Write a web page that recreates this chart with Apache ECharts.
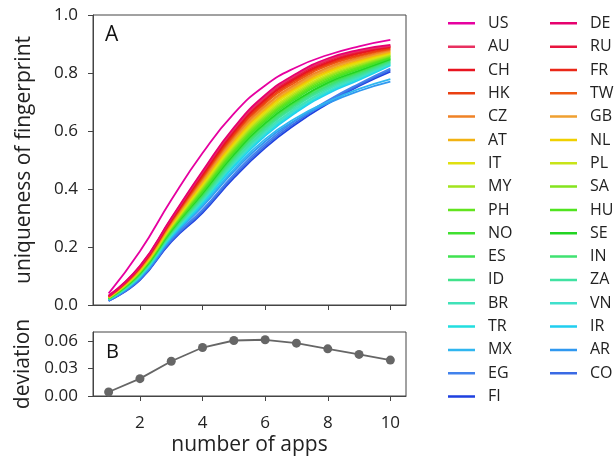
<!DOCTYPE html>
<html>
<head>
<meta charset="utf-8">
<script src="https://cdn.jsdelivr.net/npm/echarts@6/dist/echarts.min.js"></script>
<style>
html,body{margin:0;padding:0;background:#fff;}
#chart{width:616px;height:460px;}
</style>
</head>
<body>
<div id="chart"></div>
<script>
// ---- data ----
const apps = [1, 2, 3, 4, 5, 6, 7, 8, 9, 10];
const xTicks = [2, 4, 6, 8, 10];
const yTicksA = [0, 0.2, 0.4, 0.6, 0.8, 1.0];
const yTicksB = [0, 0.03, 0.06];

const US = [0.040, 0.185, 0.362, 0.524, 0.660, 0.757, 0.820, 0.862, 0.892, 0.914];
const DE = [0.032, 0.135, 0.300, 0.462, 0.612, 0.724, 0.798, 0.850, 0.880, 0.897];
const AU = [0.031, 0.133, 0.297, 0.458, 0.607, 0.718, 0.793, 0.845, 0.876, 0.894];
const RU = [0.031, 0.132, 0.296, 0.455, 0.603, 0.715, 0.789, 0.842, 0.873, 0.892];
const CH = [0.031, 0.131, 0.293, 0.450, 0.598, 0.709, 0.784, 0.837, 0.869, 0.890];
const FR = [0.030, 0.130, 0.292, 0.448, 0.595, 0.706, 0.781, 0.834, 0.867, 0.888];
const HK = [0.030, 0.129, 0.289, 0.443, 0.589, 0.700, 0.776, 0.830, 0.862, 0.885];
const TW = [0.029, 0.127, 0.287, 0.439, 0.584, 0.695, 0.770, 0.825, 0.858, 0.882];
const CZ = [0.028, 0.125, 0.284, 0.433, 0.577, 0.687, 0.763, 0.819, 0.853, 0.879];
const GB = [0.028, 0.124, 0.281, 0.429, 0.572, 0.682, 0.758, 0.814, 0.849, 0.876];
const AT = [0.027, 0.122, 0.279, 0.425, 0.567, 0.676, 0.753, 0.809, 0.845, 0.873];
const NL = [0.027, 0.121, 0.276, 0.420, 0.561, 0.671, 0.748, 0.804, 0.841, 0.870];
const IT = [0.026, 0.119, 0.274, 0.416, 0.556, 0.665, 0.743, 0.800, 0.837, 0.868];
const PL = [0.026, 0.118, 0.271, 0.412, 0.551, 0.660, 0.737, 0.795, 0.833, 0.865];
const MY = [0.025, 0.116, 0.269, 0.407, 0.546, 0.655, 0.732, 0.790, 0.829, 0.862];
const SA = [0.025, 0.115, 0.266, 0.403, 0.540, 0.649, 0.727, 0.786, 0.825, 0.859];
const PH = [0.024, 0.113, 0.264, 0.399, 0.535, 0.644, 0.722, 0.781, 0.821, 0.857];
const HU = [0.024, 0.112, 0.262, 0.394, 0.530, 0.638, 0.717, 0.776, 0.817, 0.854];
const NO = [0.023, 0.111, 0.259, 0.390, 0.525, 0.633, 0.712, 0.772, 0.813, 0.851];
const SE = [0.023, 0.109, 0.257, 0.386, 0.519, 0.627, 0.706, 0.767, 0.808, 0.848];
const ES = [0.022, 0.108, 0.254, 0.381, 0.514, 0.622, 0.701, 0.762, 0.804, 0.846];
const IN = [0.021, 0.106, 0.252, 0.377, 0.509, 0.616, 0.696, 0.757, 0.800, 0.843];
const ID = [0.021, 0.105, 0.249, 0.373, 0.504, 0.611, 0.691, 0.753, 0.796, 0.840];
const ZA = [0.020, 0.103, 0.247, 0.368, 0.498, 0.605, 0.686, 0.748, 0.792, 0.837];
const BR = [0.020, 0.102, 0.244, 0.364, 0.493, 0.600, 0.680, 0.743, 0.788, 0.834];
const VN = [0.019, 0.100, 0.242, 0.360, 0.488, 0.594, 0.675, 0.738, 0.784, 0.832];
const TR = [0.019, 0.099, 0.239, 0.355, 0.483, 0.589, 0.670, 0.734, 0.780, 0.829];
const IR = [0.018, 0.097, 0.237, 0.351, 0.477, 0.583, 0.665, 0.729, 0.776, 0.826];
const MX = [0.019, 0.096, 0.233, 0.345, 0.468, 0.572, 0.646, 0.701, 0.745, 0.779];
const AR = [0.018, 0.094, 0.230, 0.340, 0.461, 0.564, 0.639, 0.695, 0.738, 0.770];
const EG = [0.015, 0.090, 0.225, 0.329, 0.450, 0.555, 0.638, 0.705, 0.763, 0.815];
const CO = [0.015, 0.088, 0.221, 0.323, 0.444, 0.548, 0.631, 0.699, 0.759, 0.810];
const FI = [0.014, 0.086, 0.218, 0.318, 0.438, 0.542, 0.625, 0.694, 0.755, 0.805];

const deviation = [0.0044, 0.019, 0.038, 0.053, 0.0607, 0.0615, 0.0578, 0.0516, 0.0455, 0.0393];

const countryNames = ['US','DE','AU','RU','CH','FR','HK','TW','CZ','GB','AT','NL','IT','PL','MY','SA','PH','HU','NO','SE','ES','IN','ID','ZA','BR','VN','TR','IR','MX','AR','EG','CO','FI'];
const countryValues = [US,DE,AU,RU,CH,FR,HK,TW,CZ,GB,AT,NL,IT,PL,MY,SA,PH,HU,NO,SE,ES,IN,ID,ZA,BR,VN,TR,IR,MX,AR,EG,CO,FI];
const legendCol1 = ['US','AU','CH','HK','CZ','AT','IT','MY','PH','NO','ES','ID','BR','TR','MX','EG','FI'];
const legendCol2 = ['DE','RU','FR','TW','GB','NL','PL','SA','HU','SE','IN','ZA','VN','IR','AR','CO'];

// ---- styles ----
const colors = ['#e600a0','#e6006e','#e83060','#e8143e','#e81420','#ea2818','#ea4012','#ee5a12','#f08226','#f0a030','#f2b212','#f0d000','#e0e010','#c8e418','#a2e41e','#84e41e','#62e41e','#50e420','#40e030','#22d422','#40e250','#40e272','#40e28a','#40e2a2','#40e2b8','#40e0cc','#22dee0','#20cef0','#30b6f0','#3098f0','#4282ec','#3a6ae4','#1e40e0'];
const FONT = 'Open Sans';
const AX = '#444';
const TXT = '#222';
// thin horizontal bar icon (tiny corner specks fix the bounding box to 27x16)
const LINE_ICON = 'path://M0,0L0.01,0L0.01,0.01Z M0,6.75L27,6.75L27,9.25L0,9.25Z M26.99,16L27,16L27,15.99Z';

const chart = echarts.init(document.getElementById('chart'), null, {renderer: 'canvas'});

const series = countryNames.map((n, i) => ({
  name: n, type: 'line', xAxisIndex: 0, yAxisIndex: 0,
  data: apps.map((x, j) => [x, countryValues[i][j]]),
  smooth: 0.5, symbol: 'none', showSymbol: false,
  lineStyle: {width: 1.8, color: colors[i]}, itemStyle: {color: colors[i]},
  z: 2 + (33 - i) / 100
}));
series.push({
  name: 'deviation', type: 'line', xAxisIndex: 1, yAxisIndex: 1,
  data: apps.map((x, j) => [x, deviation[j]]),
  symbol: 'circle', symbolSize: 9,
  lineStyle: {width: 1.8, color: '#666'}, itemStyle: {color: '#666'}
});

const legendCommon = {
  orient: 'vertical', top: 15.3, itemWidth: 27, itemHeight: 16, itemGap: 7.33,
  padding: 0, selectedMode: false, icon: LINE_ICON,
  textStyle: {fontFamily: FONT, fontSize: 16, color: TXT, padding: [0, 0, 0, 8]}
};

const baseX = (gi, showLabels) => ({
  type: 'value', gridIndex: gi, min: 0.5, max: 10.5,
  axisLine: {show: true, onZero: false, lineStyle: {color: AX, width: 1}},
  axisTick: {show: true, length: 5, customValues: xTicks, lineStyle: {color: AX}},
  axisLabel: {show: showLabels, customValues: xTicks, fontFamily: FONT, fontSize: 17, color: TXT, margin: 19},
  splitLine: {show: false}
});

chart.setOption({
  animation: false,
  backgroundColor: '#fff',
  grid: [
    {left: 93, top: 15, width: 313, height: 290, show: true, borderColor: AX, borderWidth: 1},
    {left: 93, top: 332, width: 313, height: 64, show: true, borderColor: AX, borderWidth: 1}
  ],
  xAxis: [
    baseX(0, false),
    Object.assign(baseX(1, true), {name: 'number of apps', nameLocation: 'middle', nameGap: 39,
      nameTextStyle: {fontFamily: FONT, fontSize: 21, color: TXT}})
  ],
  yAxis: [
    {type: 'value', gridIndex: 0, min: 0, max: 1, interval: 0.2,
     name: 'uniqueness of fingerprint', nameLocation: 'middle', nameGap: 58,
     nameTextStyle: {fontFamily: FONT, fontSize: 21, color: TXT},
     axisLine: {show: true, lineStyle: {color: AX}},
     axisTick: {show: true, length: 5, lineStyle: {color: AX}},
     axisLabel: {fontFamily: FONT, fontSize: 17, color: TXT, margin: 15, formatter: v => v.toFixed(1)},
     splitLine: {show: false}},
    {type: 'value', gridIndex: 1, min: 0, max: 0.07,
     name: 'deviation', nameLocation: 'middle', nameGap: 58,
     nameTextStyle: {fontFamily: FONT, fontSize: 21, color: TXT},
     axisLine: {show: true, lineStyle: {color: AX}},
     axisTick: {show: true, length: 5, customValues: yTicksB, lineStyle: {color: AX}},
     axisLabel: {customValues: yTicksB, fontFamily: FONT, fontSize: 17, color: TXT, margin: 15, formatter: v => v.toFixed(2)},
     splitLine: {show: false}}
  ],
  legend: [
    Object.assign({}, legendCommon, {left: 448, data: legendCol1}),
    Object.assign({}, legendCommon, {left: 550, data: legendCol2})
  ],
  graphic: [
    {type: 'text', left: 105, top: 25, style: {text: 'A', fontFamily: FONT, fontSize: 21, fill: '#111'}},
    {type: 'text', left: 106, top: 342, style: {text: 'B', fontFamily: FONT, fontSize: 20, fill: '#111'}}
  ],
  series: series
});
</script>
</body>
</html>
